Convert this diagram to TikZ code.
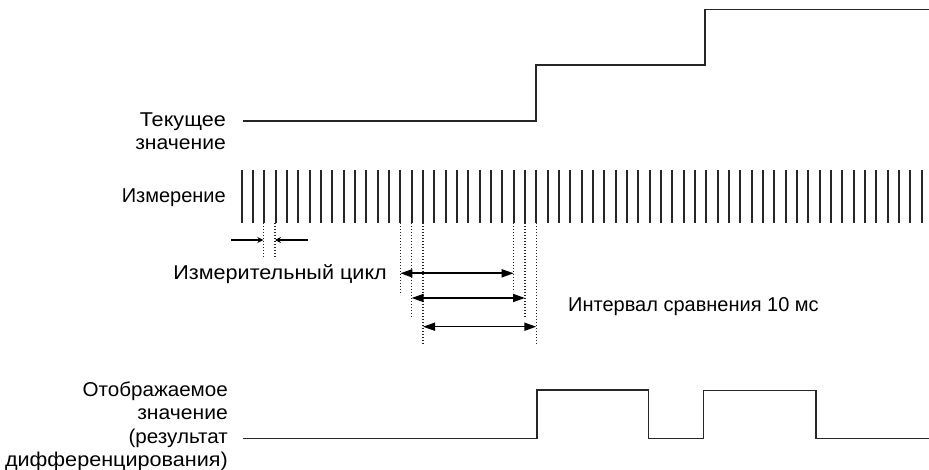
\documentclass[tikz,border=0pt]{standalone}
\usepackage{fontspec}
\setmainfont{Liberation Sans}
\newfontfamily\stretchA[FakeStretch=1.08]{Liberation Sans}
\newfontfamily\stretchB[FakeStretch=1.055]{Liberation Sans}
\newfontfamily\stretchC[FakeStretch=1.03]{Liberation Sans}
\usetikzlibrary{arrows.meta}
\begin{document}
\begin{tikzpicture}[x=1pt,y=-1pt,
  lbl/.style={font=\fontsize{20}{24}\selectfont, inner sep=0pt},
  signal/.style={line width=1.6pt, color=black!85},
  tick/.style={line width=2.2pt, color=black!85},
  guide/.style={line width=1.3pt, dash pattern=on 1.4pt off 1.6pt, color=black!85},
  span/.style={line width=1.6pt, {Triangle[length=12pt,width=8pt]}-{Triangle[length=12pt,width=8pt]}},
  small/.style={line width=1.3pt, -{Stealth[length=6pt,width=6pt]}}]
\useasboundingbox (0,0) rectangle (929,470);
% labels
\node[lbl, anchor=base east] (cur1) at (226,127) {\stretchA Текущее};
\node[lbl, anchor=base east] (cur2) at (226,149.5) {\stretchB значение};
\node[lbl, anchor=base east] (meas) at (226,203) {Измерение};
\node[lbl, anchor=base east] (cyc) at (387,280) {\stretchA Измерительный цикл};
\node[lbl, anchor=base west] (cmp) at (568,312) {Интервал сравнения 10 мс};
\node[lbl, anchor=base east] (disp1) at (228,396) {\stretchC Отображаемое};
\node[lbl, anchor=base east] (disp2) at (228,419.5) {\stretchB значение};
\node[lbl, anchor=base east] (disp3) at (228,443) {\stretchC (результат};
\node[lbl, anchor=base east] (disp4) at (228,466.5) {\stretchA дифференцирования)};
% current value
\coordinate (c0) at (243,121);
\coordinate (c1) at (536,121);
\coordinate (c2) at (536,65);
\coordinate (c3) at (705,65);
\coordinate (c4) at (705,9.5);
\coordinate (c5) at (929,9.5);
\draw[signal] (c0) -- (c1) -- (c2) -- (c3) -- (c4) -- (c5);
% ticks
\foreach \i in {0,...,60} {
  \draw[tick] ({241.7+\i*11.333},170) -- ({241.7+\i*11.333},223);
}
% small cycle
\coordinate (s1t) at (263.3,223);
\coordinate (s1b) at (263.3,258);
\coordinate (s2t) at (275,223);
\coordinate (s2b) at (275,258);
\draw[guide] (s1t) -- (s1b);
\draw[guide] (s2t) -- (s2b);
\coordinate (sa) at (231,240);
\coordinate (sb) at (308,240);
\draw[small] (sa) -- (s1b |- sa);
\draw[small] (sb) -- (s2b |- sb);
% comparison intervals
\coordinate (l1t) at (400.3,223); \coordinate (l1b) at (400.3,295);
\coordinate (l2t) at (411.6,223); \coordinate (l2b) at (411.6,317);
\coordinate (l3t) at (423.0,223); \coordinate (l3b) at (423.0,344);
\coordinate (r1t) at (513.7,223); \coordinate (r1b) at (513.7,292);
\coordinate (r2t) at (525.0,223); \coordinate (r2b) at (525.0,318);
\coordinate (r3t) at (536.3,223); \coordinate (r3b) at (536.3,344);
\foreach \n in {l1,l2,l3,r1,r2,r3} { \draw[guide] (\n t) -- (\n b); }
\draw[span] (l1t |- 0,273.3) -- (r1t |- 0,273.3);
\draw[span] (l2t |- 0,298) -- (r2t |- 0,298);
\draw[span] (l3t |- 0,326.7) -- (r3t |- 0,326.7);
% displayed value
\coordinate (d0) at (243,438.5);
\coordinate (d1) at (537,438.5);
\coordinate (d2) at (537,390);
\coordinate (d3) at (648.5,390);
\coordinate (d4) at (648.5,438.5);
\coordinate (d5) at (703.5,438.5);
\coordinate (d6) at (703.5,390.5);
\coordinate (d7) at (816,390.5);
\coordinate (d8) at (816,438.5);
\coordinate (d9) at (929,438.5);
\draw[signal] (d0) -- (d1) -- (d2) -- (d3) -- (d4) -- (d5) -- (d6) -- (d7) -- (d8) -- (d9);
\end{tikzpicture}
\end{document}
